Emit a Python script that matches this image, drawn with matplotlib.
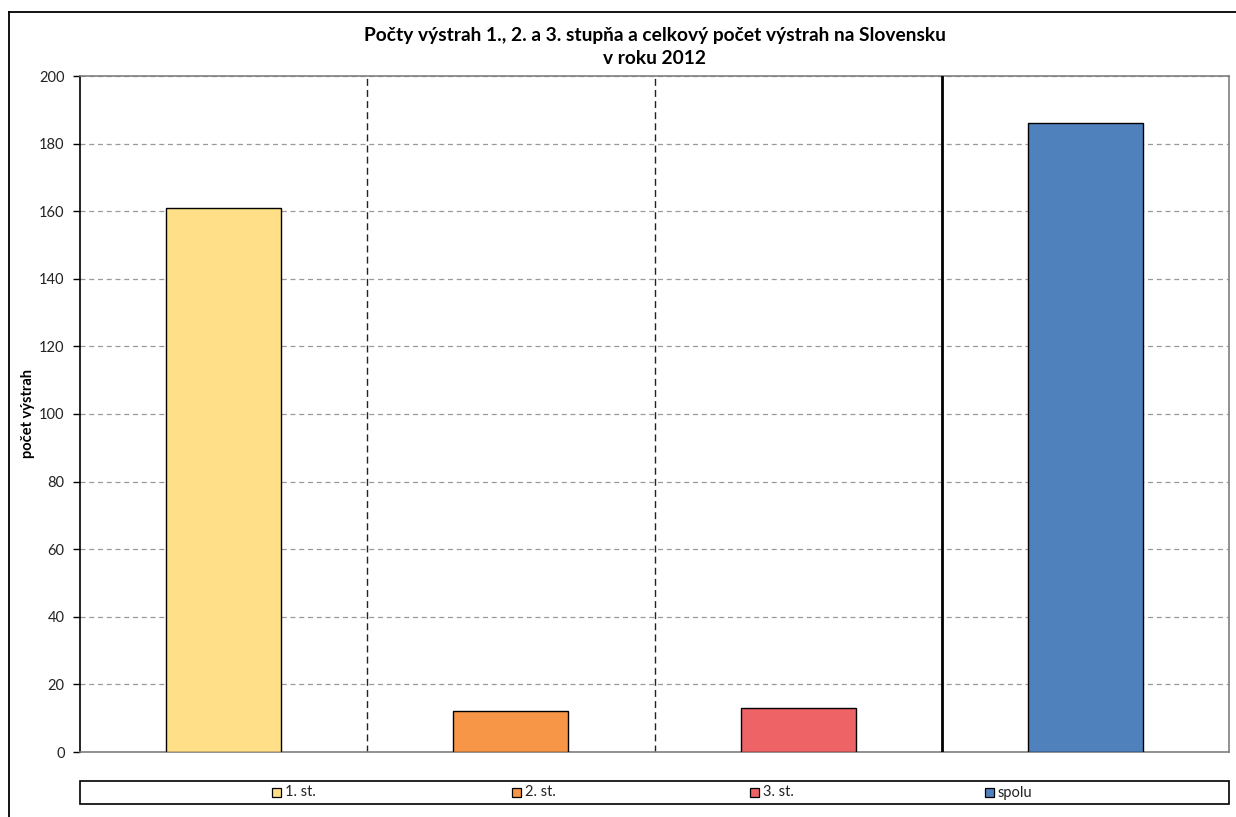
import matplotlib
matplotlib.use("Agg")
import matplotlib.pyplot as plt
from matplotlib.patches import Rectangle
from matplotlib.lines import Line2D

categories = ["1. st.", "2. st.", "3. st.", "spolu"]
values = [161, 12, 13, 186]
colors = ["#FFDF88", "#F79646", "#EE6466", "#4F81BD"]
yticks = [0, 20, 40, 60, 80, 100, 120, 140, 160, 180, 200]
title = "Počty výstrah 1., 2. a 3. stupňa a celkový počet výstrah na Slovensku\nv roku 2012"
ylabel = "počet výstrah"

plt.rcParams["font.family"] = ["Lato", "DejaVu Sans"]

W, H = 1236, 817
fig = plt.figure(figsize=(W / 100, H / 100), dpi=100)

# outer chart frame (left and top edges)
fig.add_artist(Line2D([9 / W, 9 / W], [0, 1 - 12 / H], transform=fig.transFigure,
                      color="black", lw=1.3))
fig.add_artist(Line2D([9 / W, 1], [1 - 12 / H, 1 - 12 / H], transform=fig.transFigure,
                      color="black", lw=1.3))

left, right, top, bottom = 80, 1229, 76, 752
ax = fig.add_axes([left / W, 1 - bottom / H, (right - left) / W, (bottom - top) / H])

x = list(range(len(categories)))
ax.bar(x, values, width=0.4, color=colors, edgecolor="black", linewidth=1.0, zorder=3)

ax.set_xlim(-0.5, len(categories) - 0.5)
ax.set_ylim(0, 200)
ax.set_yticks(yticks)
ax.set_yticklabels([str(t) for t in yticks], fontsize=10.5, color="#222222")
ax.set_xticks([])
ax.tick_params(axis="y", length=5, width=1, color="black", pad=6)

ax.grid(axis="y", linestyle=(0, (4, 3)), color="#9a9a9a", linewidth=0.9, zorder=0)

# separators between categories
for b in [0.5, 1.5]:
    ax.axvline(b, color="#222222", linestyle=(0, (5, 3)), linewidth=1.0, zorder=1)
ax.axvline(2.5, color="black", linewidth=2.0, zorder=4)

ax.spines["left"].set_color("black")
ax.spines["left"].set_linewidth(1.2)
for s in ["top", "right", "bottom"]:
    ax.spines[s].set_color("#7f7f7f")
    ax.spines[s].set_linewidth(1.2)

fig.text(28 / W, 1 - 413 / H, ylabel, rotation=90, ha="center", va="center",
         fontsize=10.5, fontweight="bold")
fig.text((left + right) / 2 / W, 1 - 47 / H, title, ha="center", va="center",
         fontsize=13.8, fontweight="bold", linespacing=1.4)

# legend box below the plot area
leg_top, leg_bot = 781, 804
fig.add_artist(Rectangle((left / W, 1 - leg_bot / H), (right - left) / W,
                         (leg_bot - leg_top) / H, transform=fig.transFigure,
                         facecolor="white", edgecolor="black", linewidth=1.2))
leg_x = [272, 512, 750, 985]
for lx, lab, c in zip(leg_x, categories, colors):
    yc = 1 - (leg_top + leg_bot) / 2 / H
    fig.add_artist(Rectangle((lx / W, yc - 4.5 / H), 9 / W, 9 / H, transform=fig.transFigure,
                             facecolor=c, edgecolor="black", linewidth=0.9))
    fig.text((lx + 13) / W, yc, lab, ha="left", va="center", fontsize=10.5, color="#222222")

fig.savefig("out.png", dpi=100)
